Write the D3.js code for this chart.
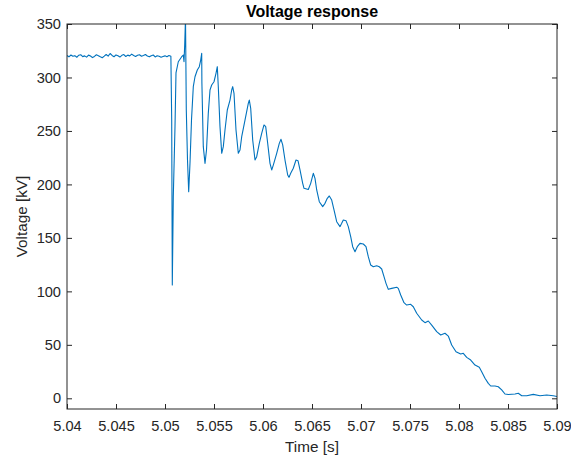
<!DOCTYPE html>
<html><head><meta charset="utf-8">
<script src="https://cdn.jsdelivr.net/npm/d3@7"></script>
<style>
body{margin:0;background:#fff}
svg{display:block}
text{font-family:"Liberation Sans",Arial,Helvetica,sans-serif}
</style>
</head><body>
<svg id="c" width="571" height="462"></svg>
<script>
const titleText = "Voltage response";
const xLabel = "Time [s]";
const yLabel = "Voltage [kV]";
const xDomain = [5.04, 5.09];
const yDomain = [-10, 350];
const xTicks = [5.04, 5.045, 5.05, 5.055, 5.06, 5.065, 5.07, 5.075, 5.08, 5.085, 5.09];
const xTickLabels = ["5.04","5.045","5.05","5.055","5.06","5.065","5.07","5.075","5.08","5.085","5.09"];
const yTicks = [0, 50, 100, 150, 200, 250, 300, 350];

// steady state before the fault [time s, voltage kV]
const preFault = [
[5.0400,320.5],[5.0402,319.3],[5.0404,321.0],[5.0406,319.8],[5.0408,320.4],[5.0410,318.9],
[5.0412,320.8],[5.0414,321.3],[5.0416,319.5],[5.0418,320.2],[5.0420,319.0],[5.0422,320.9],
[5.0424,320.1],[5.0426,318.6],[5.0428,319.7],[5.0430,321.2],[5.0432,320.4],[5.0434,319.3],
[5.0436,318.4],[5.0438,319.9],[5.0440,321.5],[5.0442,320.0],[5.0444,322.4],[5.0446,320.6],
[5.0448,319.4],[5.0450,321.1],[5.0452,320.3],[5.0454,319.1],[5.0456,320.7],[5.0458,321.4],
[5.0460,319.6],[5.0462,320.9],[5.0464,320.2],[5.0466,321.8],[5.0468,320.5],[5.0470,319.7],
[5.0472,320.8],[5.0474,321.2],[5.0476,319.9],[5.0478,320.6],[5.0480,321.5],[5.0482,320.1],
[5.0484,319.3],[5.0486,320.4],[5.0488,321.0],[5.0490,319.2],[5.0492,320.3],[5.0494,319.8],
[5.0496,318.9],[5.0498,319.6],[5.0500,320.2],[5.0502,319.4],[5.0504,320.5],[5.0506,319.8]
];

// oscillating transient after the fault
const transient = [
[5.050684,260.2],[5.050745,105.9],[5.050847,188.5],[5.051020,254.0],[5.051122,304.2],
[5.051357,314.7],[5.051704,319.4],[5.051867,321.0],[5.051939,314.7],[5.052010,330.4],
[5.052092,355.6],[5.052173,269.6],[5.052296,222.8],[5.052418,193.2],[5.052551,220.0],
[5.052704,260.2],[5.052888,291.4],[5.053061,300.7],[5.053296,307.0],[5.053500,310.1],
[5.053643,316.3],[5.053745,322.6],[5.053765,294.8],[5.053908,235.3],[5.054082,219.7],
[5.054235,232.2],[5.054418,266.5],[5.054592,288.3],[5.054765,293.0],[5.055000,296.0],
[5.055204,303.9],[5.055337,310.1],[5.055439,291.4],[5.055612,254.0],[5.055786,229.1],
[5.055949,235.3],[5.056122,250.9],[5.056357,269.6],[5.056633,278.9],[5.056806,288.3],
[5.056908,291.4],[5.057041,285.2],[5.057245,250.9],[5.057480,229.1],[5.057653,232.2],
[5.057827,244.6],[5.058163,260.2],[5.058500,275.8],[5.058602,278.9],[5.058745,271.2],
[5.058949,241.5],[5.059184,222.8],[5.059357,225.9],[5.059622,238.4],[5.059867,247.8],
[5.060102,255.6],[5.060276,254.0],[5.060439,241.5],[5.060714,219.7],[5.060888,213.5],
[5.061051,218.1],[5.061398,229.1],[5.061663,238.4],[5.061837,242.2],[5.062010,236.9],
[5.062245,222.8],[5.062520,208.8],[5.062653,206.6],[5.062827,210.4],[5.063092,215.1],
[5.063367,222.8],[5.063571,222.2],[5.063776,213.5],[5.064051,201.0],[5.064184,196.4],
[5.064622,195.2],[5.064867,201.0],[5.065133,210.4],[5.065306,205.7],[5.065480,194.8],
[5.065745,183.8],[5.066092,179.2],[5.066327,182.3],[5.066561,187.0],[5.066765,189.2],
[5.067010,185.4],[5.067245,176.1],[5.067520,165.1],[5.067857,160.5],[5.068031,163.6],
[5.068194,166.7],[5.068469,166.1],[5.068704,160.5],[5.068949,151.1],[5.069153,141.8],
[5.069388,137.1],[5.069622,141.8],[5.069898,144.9],[5.070235,144.3],[5.070510,141.8]
];

// final decay to zero
const decay = [
[5.070745,132.4],[5.070990,124.6],[5.071255,123.0],[5.071602,124.0],[5.071867,123.0],
[5.072112,120.9],[5.072347,113.7],[5.072551,107.5],[5.072786,101.9],[5.073133,102.8],
[5.073643,103.8],[5.073806,102.8],[5.074051,96.6],[5.074388,89.4],[5.074663,87.2],
[5.075071,87.9],[5.075337,85.6],[5.075684,79.5],[5.076194,73.2],[5.076531,70.7],
[5.076867,72.3],[5.077214,68.5],[5.077724,62.3],[5.078133,59.2],[5.078571,60.8],
[5.078908,58.2],[5.079255,49.8],[5.079694,43.6],[5.080173,41.4],[5.080439,42.1],
[5.080786,38.3],[5.081194,35.8],[5.081633,31.1],[5.082071,29.0],[5.082316,24.9],
[5.082653,18.7],[5.082990,14.0],[5.083235,11.5],[5.083673,11.5],[5.084010,10.8],
[5.084357,7.8],[5.084694,4.0],[5.085031,3.5],[5.085714,4.0],[5.086051,4.7],
[5.086398,2.4],[5.086908,2.4],[5.087582,3.7],[5.088265,2.4],[5.088949,3.1],
[5.089622,2.4],[5.090000,1.7]
];

const trace = preFault.concat(transient, decay);

const L = 67, R = 557, T = 24, B = 409;
const axisColor = "#262626";
const fs = 14.6;

const svg = d3.select("#c");
const x = d3.scaleLinear().domain(xDomain).range([L, R]);
const y = d3.scaleLinear().domain(yDomain).range([B, T]);

svg.append("defs").append("clipPath").attr("id","clip")
  .append("rect").attr("x",L).attr("y",T).attr("width",R-L).attr("height",B-T);

svg.append("path").datum(trace)
  .attr("clip-path","url(#clip)")
  .attr("fill","none").attr("stroke","#0072BD").attr("stroke-width",1.1)
  .attr("stroke-linejoin","round")
  .attr("d", d3.line().x(d=>x(d[0])).y(d=>y(d[1])));

function style(g, labels){
  g.select(".domain").remove();
  g.selectAll(".tick line").attr("stroke",axisColor).attr("stroke-width",1);
  g.selectAll(".tick text").attr("fill",axisColor).style("font-size",fs+"px");
  if(!labels) g.selectAll(".tick text").remove();
}

const xa = d3.axisBottom(x).tickValues(xTicks).tickFormat((d,i)=>xTickLabels[i]).tickSizeInner(-5).tickSizeOuter(0).tickPadding(12);
svg.append("g").attr("transform",`translate(0,${B})`).call(xa).call(g=>style(g,true));
svg.append("g").attr("transform",`translate(0,${T})`).call(d3.axisTop(x).tickValues(xTicks).tickSizeInner(-5).tickSizeOuter(0)).call(g=>style(g,false));
const ya = d3.axisLeft(y).tickValues(yTicks).tickFormat(d3.format("d")).tickSizeInner(-5).tickSizeOuter(0).tickPadding(6);
svg.append("g").attr("transform",`translate(${L},0)`).call(ya).call(g=>style(g,true));
svg.append("g").attr("transform",`translate(${R},0)`).call(d3.axisRight(y).tickValues(yTicks).tickSizeInner(-5).tickSizeOuter(0)).call(g=>style(g,false));

svg.append("rect").attr("x",L).attr("y",T).attr("width",R-L).attr("height",B-T)
  .attr("fill","none").attr("stroke",axisColor).attr("stroke-width",1);

svg.append("text").attr("x",(L+R)/2).attr("y",17).attr("text-anchor","middle")
  .attr("fill","#000").style("font-size","16px").style("font-weight","bold").text(titleText);
svg.append("text").attr("x",(L+R)/2).attr("y",452).attr("text-anchor","middle")
  .attr("fill",axisColor).style("font-size","15.3px").text(xLabel);
svg.append("text").attr("transform",`translate(27,${(T+B)/2}) rotate(-90)`).attr("text-anchor","middle")
  .attr("fill",axisColor).style("font-size","15.3px").text(yLabel);
</script>
</body></html>
